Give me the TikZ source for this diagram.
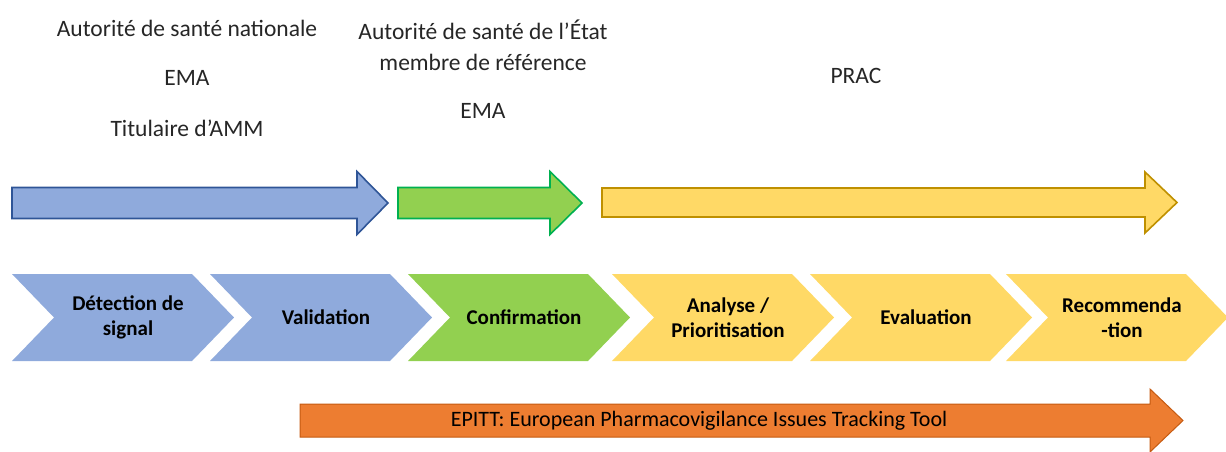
\documentclass[tikz,border=0pt]{standalone}
\usepackage{fontspec}
\setmainfont{Carlito}
\definecolor{bluefill}{HTML}{8FAADC}
\definecolor{blueline}{HTML}{2F5597}
\definecolor{greenfill}{HTML}{92D050}
\definecolor{greenline}{HTML}{00B050}
\definecolor{yellowfill}{HTML}{FFD966}
\definecolor{yellowline}{HTML}{BF9000}
\definecolor{orangefill}{HTML}{ED7D31}
\definecolor{orangeline}{HTML}{C55A11}
\definecolor{textgrey}{HTML}{262626}
\begin{document}
\begin{tikzpicture}[x=1pt, y=-1pt,
    actor/.style={font=\fontsize{23.5}{28}\selectfont, text=textgrey, inner sep=0pt},
    stagetext/.style={font=\fontsize{21}{25}\selectfont\bfseries, align=center, inner sep=0pt},
    bigarrow/.style={line width=1.6pt, line join=miter}]
  % A block arrow: #1 = style, #2 = left x, #3 = x of the head base, #4 = x of the tip,
  % #5 = middle y, #6 = half height of the body, #7 = half height of the head.
  \newcommand{\blockarrow}[7]{%
    \draw[bigarrow, #1] (#2,#5-#6) -- (#3,#5-#6) -- (#3,#5-#7) -- (#4,#5)
      -- (#3,#5+#7) -- (#3,#5+#6) -- (#2,#5+#6) -- cycle;}
  % A stage of the process: #1 = left x, #2 = colour, #3 = name, #4 = label.
  \newcommand{\stagechev}[4]{%
    \fill[#2] (#1,274) -- (#1+180,274) -- (#1+222,317.5) -- (#1+180,361)
      -- (#1,361) -- (#1+42,317.5) -- cycle;
    \node[stagetext] (#3) at (#1+116,317.5) {#4};}

  \useasboundingbox (0,0) rectangle (1226,451);

  % who is in charge
  \node[actor] (nat) at (187,28) {Autorité de santé nationale};
  \node[actor] (ema1) at (187,78) {EMA};
  \node[actor] (mah) at (187,128) {Titulaire d’AMM};
  \node[actor] (rms1) at (483,30) {Autorité de santé de l’État};
  \node[actor] (rms2) at (483,62) {membre de référence};
  \node[actor] (ema2) at (483,111) {EMA};
  \node[actor] (prac) at (856,76) {PRAC};

  \blockarrow{fill=bluefill, draw=blueline}{12}{357}{388}{203}{15.5}{31.5}
  \blockarrow{fill=greenfill, draw=greenline}{398}{550}{582}{203}{15.5}{31.5}
  \blockarrow{fill=yellowfill, draw=yellowline}{602}{1145}{1177}{202.5}{14.5}{30.5}

  % the stages
  \stagechev{12}{bluefill}{detect}{Détection de\\signal}
  \stagechev{210}{bluefill}{valid}{Validation}
  \stagechev{408}{greenfill}{confirm}{Confirmation}
  \stagechev{612}{yellowfill}{analyse}{Analyse /\\Prioritisation}
  \stagechev{810}{yellowfill}{evalu}{Evaluation}
  \stagechev{1006}{yellowfill}{recom}{Recommenda\\-tion}

  \blockarrow{fill=orangefill, draw=orangeline, line width=1pt}{300}{1150}{1183}{420.5}{16.5}{31.5}
  \node[actor, font=\fontsize{22}{26}\selectfont, text=black] (epitt) at (699,421)
    {EPITT: European Pharmacovigilance Issues Tracking Tool};
\end{tikzpicture}
\end{document}
